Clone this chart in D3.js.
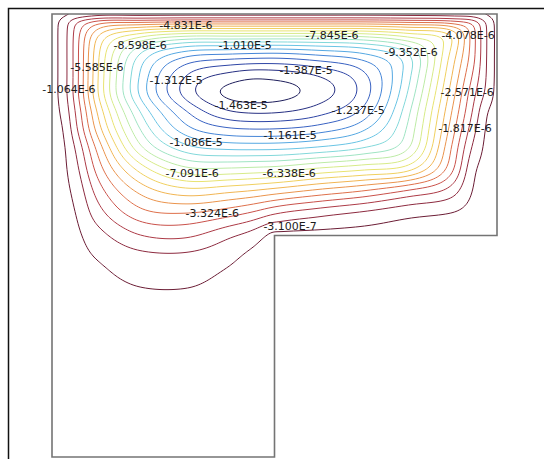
<!DOCTYPE html>
<html>
<head>
<meta charset="utf-8">
<script src="https://cdn.jsdelivr.net/npm/d3@7"></script>
<style>
  html, body { margin: 0; padding: 0; background: #fff; }
  svg { display: block; }
</style>
</head>
<body>
<svg id="chart" width="544" height="459"></svg>
<script>
// Contour levels of the stream function (most negative first)
const levels = [
  -1.463e-5, -1.387e-5, -1.312e-5, -1.237e-5, -1.161e-5, -1.086e-5, -1.010e-5,
  -9.352e-6, -8.598e-6, -7.845e-6, -7.091e-6, -6.338e-6, -5.585e-6, -4.831e-6,
  -4.078e-6, -3.324e-6, -2.571e-6, -1.817e-6, -1.064e-6, -3.100e-7
];

// Sample nodes: x as a fraction of the cavity width (left to right),
// y as a fraction of the cavity height (lid first, bottom last)
const gridX = [0, 0.025, 0.05, 0.1, 0.2, 0.3, 0.4, 0.45, 0.5, 0.6, 0.7, 0.8, 0.9, 0.95, 0.975, 1];
const gridY = [1, 0.985, 0.97, 0.95, 0.925, 0.9, 0.86, 0.82, 0.78, 0.74, 0.7,
               0.65, 0.6, 0.55, 0.5, 0.45, 0.4, 0.35, 0.3, 0.2, 0.1, 0];

// Stream function at the nodes, in units of 1e-6 (one row per gridY entry)
const psiRows = [
  [0, 0, 0, 0, 0, 0, 0, 0, 0, 0, 0, 0, 0, 0, 0, 0],
  [0, -0.54, -1.52, -2.68, -2.80, -2.95, -2.95, -2.95, -2.95, -2.95, -2.95, -2.80, -2.53, -2.04, -0.99, 0],
  [0, -0.61, -1.82, -3.78, -4.91, -5.21, -5.22, -5.22, -5.22, -5.22, -5.22, -4.91, -4.30, -2.57, -1.10, 0],
  [0, -0.63, -1.93, -4.72, -6.94, -7.88, -7.90, -7.90, -7.90, -7.90, -7.77, -6.94, -5.51, -2.65, -1.14, 0],
  [0, -0.63, -1.97, -5.13, -8.82, -10.24, -10.44, -10.52, -10.56, -10.35, -9.99, -8.80, -5.43, -2.65, -1.14, 0],
  [0, -0.63, -1.97, -5.28, -9.73, -11.79, -12.26, -12.37, -12.41, -12.05, -11.42, -9.65, -5.13, -2.59, -1.12, 0],
  [0, -0.63, -1.97, -5.36, -10.26, -13.12, -14.19, -14.46, -14.40, -13.87, -12.59, -9.62, -4.76, -2.27, -1.08, 0],
  [0, -0.63, -1.97, -5.36, -10.33, -13.40, -14.85, -15.02, -14.95, -14.25, -12.78, -9.28, -4.38, -1.89, -0.91, 0],
  [0, -0.48, -1.69, -4.79, -9.43, -12.29, -13.83, -14.02, -13.99, -13.43, -12.14, -8.82, -4.00, -1.55, -0.39, 0],
  [0, -0.28, -1.44, -4.27, -8.67, -11.31, -12.25, -12.36, -12.34, -11.97, -10.98, -8.45, -3.63, -1.18, -0.23, 0],
  [0, -0.17, -1.02, -3.48, -7.77, -9.88, -10.41, -10.45, -10.43, -10.11, -9.46, -8.00, -3.21, -0.80, -0.16, 0],
  [0, -0.14, -0.70, -2.78, -5.92, -7.63, -7.72, -7.62, -7.51, -6.94, -6.49, -5.89, -2.72, -0.35, -0.11, 0],
  [0, -0.12, -0.43, -2.06, -4.30, -5.26, -4.96, -4.75, -4.45, -3.83, -3.26, -2.42, -1.40, -0.20, -0.07, 0],
  [0, -0.10, -0.25, -1.41, -3.05, -3.30, -2.84, -2.44, -1.88, -1.31, -0.90, -0.50, -0.27, -0.08, -0.04, 0],
  [0, -0.07, -0.14, -0.74, -1.80, -1.95, -1.18, -0.74, 0, 0, 0, 0, 0, 0, 0, 0],
  [0, -0.04, -0.08, -0.33, -0.80, -0.85, -0.45, -0.12, 0, 0, 0, 0, 0, 0, 0, 0],
  [0, -0.03, -0.05, -0.16, -0.40, -0.44, -0.16, -0.05, 0, 0, 0, 0, 0, 0, 0, 0],
  [0, -0.02, -0.04, -0.10, -0.18, -0.15, -0.08, -0.03, 0, 0, 0, 0, 0, 0, 0, 0],
  [0, -0.01, -0.02, -0.06, -0.09, -0.08, -0.05, -0.02, 0, 0, 0, 0, 0, 0, 0, 0],
  [0, -0.01, -0.01, -0.03, -0.03, -0.03, -0.02, -0.01, 0, 0, 0, 0, 0, 0, 0, 0],
  [0, 0, -0.01, -0.01, -0.01, -0.01, -0.01, 0, 0, 0, 0, 0, 0, 0, 0, 0],
  [0, 0, 0, 0, 0, 0, 0, 0, 0, 0, 0, 0, 0, 0, 0, 0]
];

// L-shaped cavity outline (fractions of width / height)
const outline = [[0, 0], [0, 1], [1, 1], [1, 0.5], [0.5, 0.5], [0.5, 0]];

// ---------------------------------------------------------------------------
const W = 544, H = 459;
const svg = d3.select("#chart");

const xScale = d3.scaleLinear().domain([0, 1]).range([52, 497]);
const yScale = d3.scaleLinear().domain([0, 1]).range([457, 14]);

// Piecewise cubic Hermite through (nodes, vals), nodes ascending
function hermite(nodes, vals) {
  const n = nodes.length, m = new Array(n);
  for (let i = 1; i < n - 1; i++) {
    const h0 = nodes[i] - nodes[i - 1], h1 = nodes[i + 1] - nodes[i];
    const s0 = (vals[i] - vals[i - 1]) / h0, s1 = (vals[i + 1] - vals[i]) / h1;
    m[i] = (h1 * s0 + h0 * s1) / (h0 + h1);
  }
  m[0] = (vals[1] - vals[0]) / (nodes[1] - nodes[0]);
  m[n - 1] = (vals[n - 1] - vals[n - 2]) / (nodes[n - 1] - nodes[n - 2]);
  return function (t) {
    if (t > nodes[n - 1]) return 0;
    let k = d3.bisectRight(nodes, t) - 1;
    k = Math.max(0, Math.min(n - 2, k));
    const h = nodes[k + 1] - nodes[k], u = (t - nodes[k]) / h;
    const u2 = u * u, u3 = u2 * u;
    return (2 * u3 - 3 * u2 + 1) * vals[k] + (u3 - 2 * u2 + u) * h * m[k] +
           (-2 * u3 + 3 * u2) * vals[k + 1] + (u3 - u2) * h * m[k + 1];
  };
}

// Resample the node table onto a fine raster (about one cell per pixel).
// Below the step the rows end at the pocket wall; right of the pocket the
// columns end at the step, so each wall is an end node of its own spline.
const nx = 446, ny = 444;
const xWall = gridX.indexOf(0.5), yWall = gridY.indexOf(0.5);

const rowFine = psiRows.map((row, j) => {
  const f = gridY[j] <= 0.5
    ? hermite(gridX.slice(0, xWall + 1), row.slice(0, xWall + 1))
    : hermite(gridX, row);
  const out = new Float64Array(nx);
  for (let i = 0; i < nx; i++) out[i] = f(i / (nx - 1));
  return out;
});

const depthNodes = gridY.map(y => 1 - y);
const field = new Float64Array(nx * ny);
for (let i = 0; i < nx; i++) {
  const x = i / (nx - 1);
  const col = rowFine.map(r => r[i]);
  const g = x > 0.5
    ? hermite(depthNodes.slice(0, yWall + 1), col.slice(0, yWall + 1))
    : hermite(depthNodes, col);
  for (let j = 0; j < ny; j++) {
    field[j * nx + i] = -g(j / (ny - 1)) * 1e-6;   // negated so each level encloses the vortex core
  }
}
// light smoothing of the raster
if (d3.blur2) d3.blur2({data: field, width: nx, height: ny}, 3);

const contours = d3.contours()
  .size([nx, ny])
  .thresholds(levels.map(l => -l))(field);

// raster coordinates -> page pixels
const toPage = d3.geoTransform({
  point: function (gx, gy) {
    this.stream.point(xScale((gx - 0.5) / (nx - 1)), yScale(1 - (gy - 0.5) / (ny - 1)));
  }
});
const path = d3.geoPath(toPage);

const palette = d3.interpolateRgbBasis([
  "#1f1f5c", "#2b3a9e", "#3d6fd2", "#56b2e8", "#7ddbe2", "#b3ebb2",
  "#e4ef7c", "#f4d25c", "#ef9c4a", "#d85a4c", "#a53247", "#6b1d35"
]);
const levelColor = k => palette(k / (levels.length - 1));

// clip to the cavity
const outlinePts = outline.map(([x, y]) => [xScale(x), yScale(y)]);
svg.append("defs").append("clipPath").attr("id", "cavity")
  .append("path").attr("d", d3.line()(outlinePts) + "Z");

const lines = svg.append("g").attr("clip-path", "url(#cavity)");
contours.forEach(c => {
  const k = d3.minIndex(levels, l => Math.abs(l + c.value));
  lines.append("path")
    .attr("d", path(c))
    .attr("fill", "none")
    .attr("stroke", levelColor(k))
    .attr("stroke-width", 1)
    .attr("stroke-linejoin", "round");
});

// cavity walls
svg.append("path")
  .attr("d", d3.line()(outlinePts) + "Z")
  .attr("fill", "none")
  .attr("stroke", "#747474")
  .attr("stroke-width", 1.6);

// figure frame (left and top edges)
svg.append("path")
  .attr("d", `M8.5,${H}V8.5H${W}`)
  .attr("fill", "none")
  .attr("stroke", "#111")
  .attr("stroke-width", 1.5);

// inline level labels: which level, and where along its line it sits
const labelSpots = [
  [-4.831e-6, 0.301, 0.975], [-7.845e-6, 0.629, 0.953], [-8.598e-6, 0.198, 0.930],
  [-1.010e-5, 0.434, 0.930], [-9.352e-6, 0.807, 0.914], [-4.078e-6, 0.935, 0.953],
  [-5.585e-6, 0.101, 0.880], [-1.064e-6, 0.038, 0.831], [-1.312e-5, 0.279, 0.851],
  [-1.387e-5, 0.571, 0.874], [-1.463e-5, 0.425, 0.795], [-1.237e-5, 0.688, 0.783],
  [-2.571e-6, 0.933, 0.824], [-1.817e-6, 0.928, 0.743], [-1.086e-5, 0.324, 0.711],
  [-1.161e-5, 0.535, 0.727], [-7.091e-6, 0.315, 0.641], [-6.338e-6, 0.533, 0.641],
  [-3.324e-6, 0.360, 0.551], [-3.100e-7, 0.535, 0.521]
];

svg.append("g")
  .attr("font-family", "'DejaVu Sans', sans-serif")
  .attr("font-size", 11)
  .attr("fill", "#1c1c1c")
  .attr("text-anchor", "middle")
  .selectAll("text")
  .data(labelSpots)
  .join("text")
  .attr("x", d => xScale(d[1]))
  .attr("y", d => yScale(d[2]))
  .attr("dy", "0.36em")
  .text(d => d[0].toExponential(3).toUpperCase());
</script>
</body>
</html>
